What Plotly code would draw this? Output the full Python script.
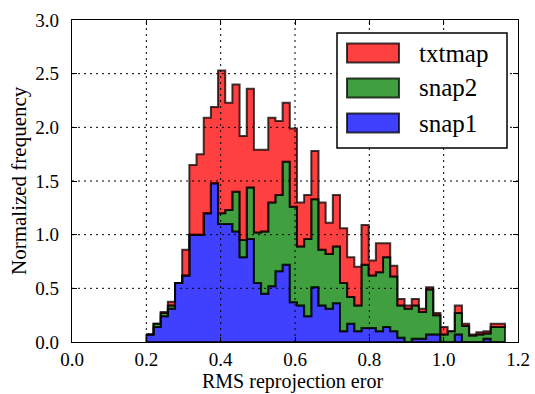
import numpy as np
import plotly.graph_objects as go

# ---------------- data ----------------
bin_range = (0.2, 1.165)          # first and last bin edge (50 equal bins)

snap1 = [0.07, 0.14, 0.24, 0.31, 0.55, 0.62, 1.00, 1.00, 1.20, 1.48,
         1.10, 1.10, 1.03, 0.79, 0.96, 0.55, 0.45, 0.52, 0.66, 0.72,
         0.37, 0.34, 0.24, 0.51, 0.34, 0.31, 0.36, 0.10, 0.17, 0.10,
         0.13, 0.13, 0.10, 0.14, 0.10, 0.04, 0.00, 0.03, 0.03, 0.07,
         0.07, 0.00, 0.00, 0.07, 0.00, 0.00, 0.00, 0.03, 0.00, 0.00]

snap2 = [0.00, 0.03, 0.03, 0.03, 0.00, 0.00, 0.00, 0.00, 0.00, 0.00,
         0.10, 0.13, 0.37, 0.16, 0.48, 0.47, 0.58, 0.78, 0.71, 0.96,
         0.89, 0.55, 0.72, 0.82, 0.52, 0.51, 0.53, 0.45, 0.25, 0.24,
         0.59, 0.49, 0.55, 0.65, 0.51, 0.30, 0.31, 0.31, 0.25, 0.42,
         0.18, 0.07, 0.10, 0.20, 0.15, 0.06, 0.07, 0.05, 0.14, 0.14]

txtmap = [0.00, 0.00, 0.01, 0.035, 0.00, 0.24, 0.65, 0.75, 0.89, 0.71,
          1.33, 1.00, 1.00, 0.97, 0.92, 0.77, 0.76, 0.79, 0.69, 0.55,
          0.73, 0.41, 0.41, 0.45, 0.44, 0.29, 0.48, 0.51, 0.37, 0.36,
          0.37, 0.14, 0.27, 0.13, 0.10, 0.06, 0.03, 0.06, 0.03, 0.02,
          0.02, 0.07, 0.00, 0.07, 0.02, 0.01, 0.02, 0.02, 0.03, 0.03]

series_names = ["snap1", "snap2", "txtmap"]          # bottom -> top
legend_order = ["txtmap", "snap2", "snap1"]
x_ticks = [0.0, 0.2, 0.4, 0.6, 0.8, 1.0, 1.2]
y_ticks = [0.0, 0.5, 1.0, 1.5, 2.0, 2.5, 3.0]
x_label = "RMS reprojection eror"
y_label = "Normalized frequency"

# ---------------- styling ----------------
FONT = "Liberation Serif"
fills = {"snap1": "rgba(0,0,255,0.75)",
         "snap2": "rgba(0,128,0,0.75)",
         "txtmap": "rgba(255,0,0,0.75)"}
EDGE = "rgba(0,0,0,0.75)"

W, H = 535, 394
ML, MR, MT, MB = 72, 17, 20, 52
PW, PH = W - ML - MR, H - MT - MB


def px(x):
    return (x - ML) / PW


def py(y):
    return (H - MB - y) / PH


fig = go.Figure()

values = {"snap1": snap1, "snap2": snap2, "txtmap": txtmap}
n = len(snap1)
edges = np.linspace(bin_range[0], bin_range[1], n + 1)
bottom = np.zeros(n)
for name in series_names:
    top = bottom + np.array(values[name])
    xs_top = np.repeat(edges, 2)[1:-1]
    ys_top = np.repeat(top, 2)
    xs = np.concatenate([xs_top, xs_top[::-1], xs_top[:1]])
    ys = np.concatenate([ys_top, np.repeat(bottom, 2)[::-1], ys_top[:1]])
    fig.add_trace(go.Scatter(
        x=xs, y=ys, mode="lines", fill="toself", name=name,
        fillcolor=fills[name], line=dict(color=EDGE, width=2),
        hoverinfo="skip", showlegend=False))
    bottom = top

shapes = []
# dotted grid drawn above the data (matplotlib classic style)
for v in x_ticks[1:-1]:
    shapes.append(dict(type="line", xref="x", yref="y", x0=v, x1=v,
                       y0=y_ticks[0], y1=y_ticks[-1], layer="above",
                       line=dict(color="black", width=1, dash="2px,4px")))
for v in y_ticks[1:-1]:
    shapes.append(dict(type="line", xref="x", yref="y", y0=v, y1=v,
                       x0=x_ticks[0], x1=x_ticks[-1], layer="above",
                       line=dict(color="black", width=1, dash="2px,4px")))

# legend (drawn manually to match the matplotlib look)
shapes.append(dict(type="rect", xref="paper", yref="paper",
                   x0=px(337), x1=px(507), y0=py(148), y1=py(33),
                   fillcolor="white", layer="above",
                   line=dict(color="black", width=1.5)))
annotations = []
row_y = [53, 88, 123]
for name, yc in zip(legend_order, row_y):
    shapes.append(dict(type="rect", xref="paper", yref="paper",
                       x0=px(347), x1=px(399), y0=py(yc + 9.5), y1=py(yc - 9.5),
                       fillcolor=fills[name], layer="above",
                       line=dict(color=EDGE, width=2)))
    annotations.append(dict(text=name, xref="paper", yref="paper",
                            x=px(418), y=py(yc), xanchor="left", yanchor="middle",
                            showarrow=False, borderpad=0,
                            font=dict(family=FONT, size=25, color="black")))

# axis titles as paper annotations (fixed positions, no margin push)
annotations.append(dict(text=x_label, xref="paper", yref="paper",
                        x=px(292), y=py(394), xanchor="center", yanchor="bottom",
                        showarrow=False, borderpad=0,
                        font=dict(family=FONT, size=20, color="black")))
annotations.append(dict(text=y_label, xref="paper", yref="paper",
                        x=px(19), y=py(181), xanchor="center", yanchor="middle",
                        textangle=-90, showarrow=False, borderpad=0,
                        font=dict(family=FONT, size=21, color="black")))

fig.update_layout(
    width=W, height=H,
    margin=dict(l=ML, r=MR, t=MT, b=MB, autoexpand=False),
    plot_bgcolor="white", paper_bgcolor="white",
    font=dict(family=FONT, size=20, color="black"),
    showlegend=False,
    shapes=shapes, annotations=annotations,
)
common = dict(ticks="inside", ticklen=5, tickwidth=1, tickcolor="black",
              showline=True, linecolor="black", linewidth=1.3, mirror="ticks",
              showgrid=False, zeroline=False, layer="above traces",
              automargin=False, ticklabeloverflow="allow")
fig.update_xaxes(
    range=[x_ticks[0], x_ticks[-1]], tickvals=x_ticks,
    ticktext=[f"{v:.1f}" for v in x_ticks],
    ticklabelstandoff=0, tickfont=dict(size=19), **common)
fig.update_yaxes(
    range=[y_ticks[0], y_ticks[-1]], tickvals=y_ticks,
    ticktext=[f"{v:.1f}" for v in y_ticks],
    ticklabelstandoff=8, tickfont=dict(size=19), **common)

fig.write_html("out.html", config={"displayModeBar": False},
               post_script="document.body.style.margin='0';document.body.style.overflow='hidden';")
